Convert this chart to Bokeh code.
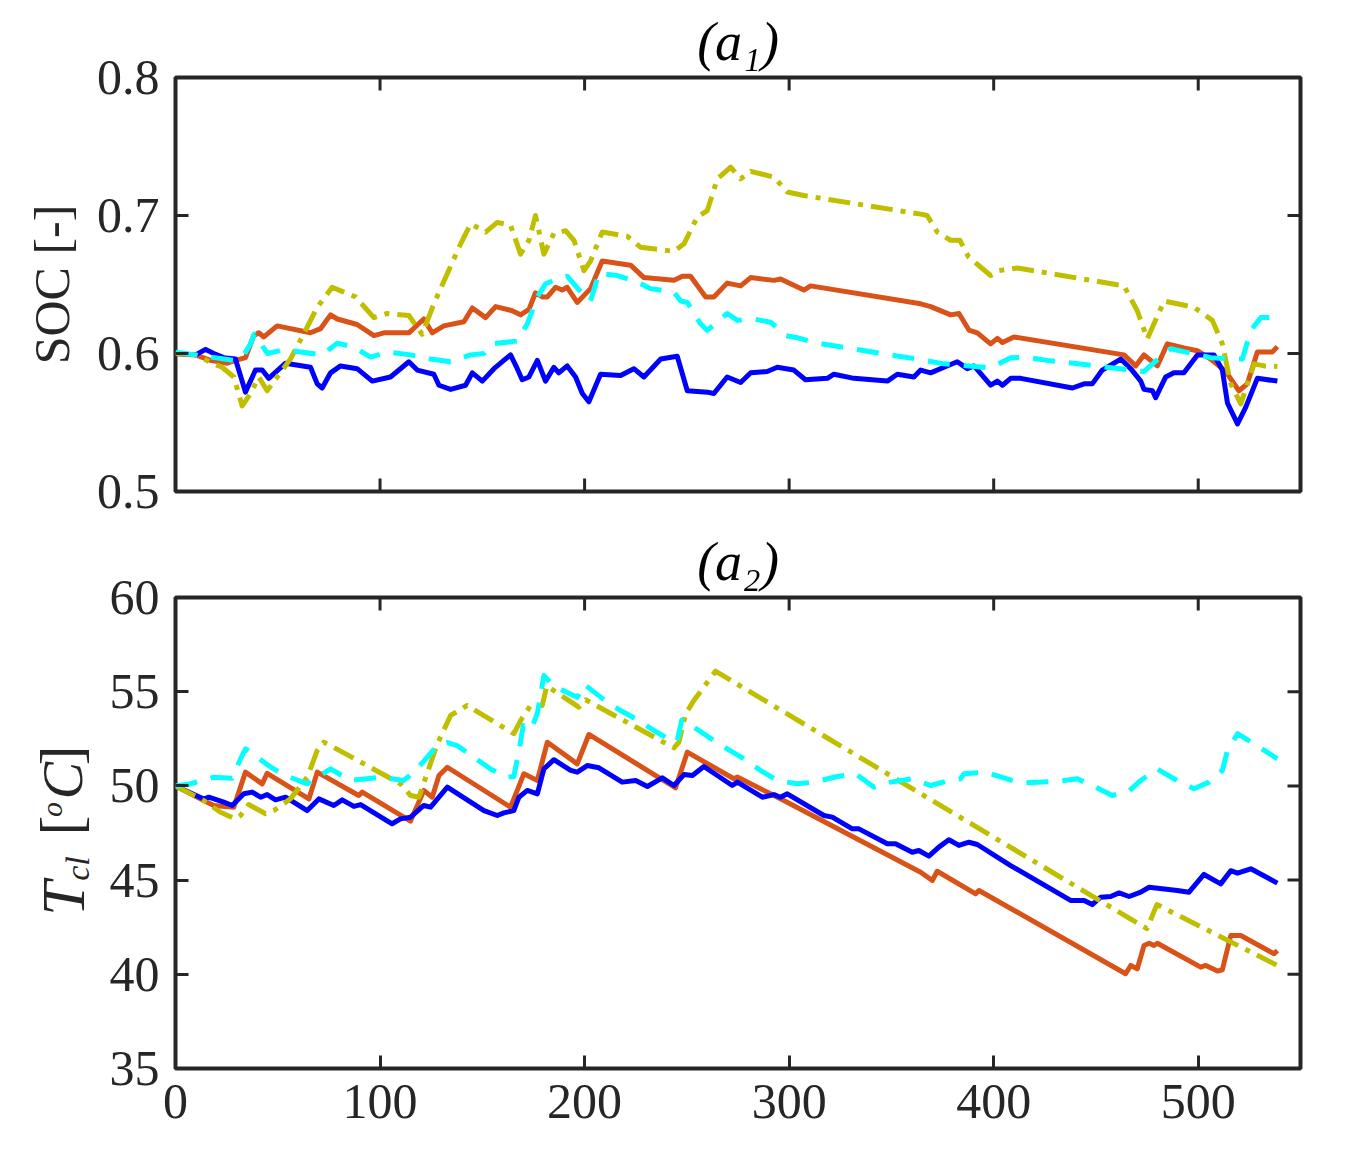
import math
from bokeh.plotting import figure
from bokeh.layouts import column, row
from bokeh.models import FixedTicker, Range1d
from bokeh.core.properties import value
from bokeh.embed import file_html
from bokeh.resources import INLINE

# ---------------- data ----------------
x_ticks = [0, 100, 200, 300, 400, 500]
x_lim = (0, 550)
soc_ticks = [0.5, 0.6, 0.7, 0.8]
soc_lim = (0.5, 0.8)
temp_ticks = [35, 40, 45, 50, 55, 60]
temp_lim = (35, 60)

# (a1) SOC
soc_blue_t = [0, 9.8, 14.7, 18.7, 23.6, 29.3, 34.2, 39.1, 42.4, 45.6, 53.8, 66, 69.3, 71.7, 75.8, 80.7,
              88.8, 96.2, 105.1, 114.1, 118.2, 126.3, 128.8, 134.5, 141.8, 145.1, 150, 155.7, 160.5, 163.8,
              167.1, 169.5, 172.8, 176.9, 180.9, 185, 187.4, 191.5, 195.6, 198.9, 202.1, 207.8, 217.6, 224.1,
              229, 237.2, 245.3, 250.2, 260, 263.2, 269.7, 276.3, 281.2, 289.3, 294.2, 302.3, 308, 318.7,
              321.9, 331.7, 348, 352.9, 361, 364.3, 369.2, 375.7, 382.2, 387.1, 390.4, 398.5, 401.8, 404.3,
              408.3, 413.2, 438.5, 444.2, 448.2, 453.1, 462.1, 467, 471.9, 473.5, 477.6, 479.2, 484.1, 488.1,
              493, 499.6, 507.7, 511.8, 514.3, 519.2, 523.2, 528.9, 538.7]
soc_blue = [0.600, 0.599, 0.603, 0.600, 0.597, 0.596, 0.572, 0.588, 0.588, 0.582, 0.593, 0.590, 0.578, 0.575,
            0.586, 0.591, 0.589, 0.580, 0.583, 0.594, 0.588, 0.585, 0.577, 0.574, 0.577, 0.586, 0.580, 0.589,
            0.595, 0.599, 0.589, 0.581, 0.583, 0.595, 0.580, 0.590, 0.586, 0.591, 0.583, 0.571, 0.565, 0.585,
            0.584, 0.589, 0.583, 0.596, 0.598, 0.573, 0.572, 0.571, 0.583, 0.579, 0.586, 0.587, 0.590, 0.588,
            0.581, 0.582, 0.585, 0.582, 0.580, 0.585, 0.583, 0.588, 0.586, 0.590, 0.594, 0.589, 0.591, 0.577,
            0.580, 0.577, 0.582, 0.582, 0.575, 0.578, 0.578, 0.588, 0.596, 0.589, 0.580, 0.574, 0.573, 0.568,
            0.583, 0.586, 0.586, 0.599, 0.599, 0.588, 0.564, 0.549, 0.561, 0.582, 0.580]

soc_orange_t = [0, 9.8, 17.1, 25.3, 29.3, 34.2, 38.3, 40.7, 43.2, 49.7, 66, 70.9, 75.8, 79.1, 88.8, 97,
                101.9, 114.1, 121.4, 125.5, 131.2, 141, 145.1, 151.6, 156.5, 164.6, 168.7, 172.8, 176, 179.3,
                181.8, 185.8, 189.1, 191.5, 196.4, 202.9, 208.6, 222.5, 229, 243.7, 247.8, 251.8, 259.2, 263.2,
                269.7, 276.3, 281.2, 292.6, 295.8, 307.2, 310.5, 364.3, 369.2, 379, 383, 387.9, 392, 398.5,
                401.8, 404.3, 409.9, 463.7, 469.4, 473.5, 480, 484.9, 493, 499.6, 506.1, 513.4, 519.9, 524,
                528.9, 536.2, 538.7]
soc_orange = [0.600, 0.599, 0.595, 0.593, 0.595, 0.597, 0.613, 0.615, 0.612, 0.620, 0.615, 0.618, 0.628, 0.625,
              0.621, 0.613, 0.615, 0.615, 0.625, 0.615, 0.620, 0.623, 0.633, 0.626, 0.634, 0.631, 0.628, 0.632,
              0.644, 0.641, 0.641, 0.648, 0.646, 0.648, 0.637, 0.647, 0.667, 0.664, 0.655, 0.653, 0.656, 0.656,
              0.641, 0.641, 0.651, 0.649, 0.655, 0.653, 0.654, 0.646, 0.649, 0.636, 0.634, 0.628, 0.629, 0.617,
              0.615, 0.607, 0.611, 0.608, 0.612, 0.599, 0.591, 0.599, 0.591, 0.607, 0.604, 0.602, 0.596, 0.587,
              0.573, 0.578, 0.601, 0.601, 0.605]

soc_olive_t = [0, 9.8, 18.7, 22.8, 28.5, 32.6, 36.7, 40.7, 44.8, 49.7, 56.2, 61.9, 69.3, 76.6, 82.3, 88, 97,
               103.5, 114.1, 120.6, 126.3, 132.9, 139.4, 144.3, 151.6, 157.3, 163.8, 168.7, 172.8, 176, 180.1,
               185, 190.7, 194.8, 199.7, 202.9, 208.6, 220.8, 227.4, 243.7, 248.6, 255.1, 260, 264.9, 271.4,
               276.3, 281.2, 292.6, 299.1, 307.2, 364.3, 367.5, 372.4, 379, 383.5, 387.7, 398.5, 402.6, 406.7,
               411.6, 463.7, 470.2, 475.1, 483.3, 489.8, 497.9, 506.9, 511.8, 515.9, 520.8, 527.3, 532.2, 538.7]
soc_olive = [0.600, 0.599, 0.5925, 0.590, 0.583, 0.562, 0.571, 0.583, 0.573, 0.583, 0.596, 0.612, 0.6335, 0.648,
             0.6445, 0.641, 0.626, 0.629, 0.6275, 0.614, 0.636, 0.658, 0.6795, 0.694, 0.688, 0.695, 0.693, 0.672,
             0.682, 0.700, 0.672, 0.687, 0.689, 0.682, 0.660, 0.667, 0.688, 0.685, 0.677, 0.674, 0.6795, 0.699,
             0.7036, 0.7266, 0.735, 0.7266, 0.732, 0.7278, 0.717, 0.7145, 0.701, 0.700, 0.688, 0.682, 0.682,
             0.670, 0.6565, 0.660, 0.661, 0.662, 0.649, 0.631, 0.6106, 0.638, 0.636, 0.6335, 0.624, 0.607,
             0.578, 0.5635, 0.5925, 0.591, 0.5906]

soc_cyan_t = [0, 9.8, 28.5, 33, 36.7, 38.5, 45, 53, 71.7, 79.1, 87.2, 95.4, 103.5, 114.9, 124.7, 134.5, 144.3,
              150.8, 154.8, 167.1, 172, 176.9, 180.9, 185, 191.5, 199.7, 202.9, 207, 216, 225.8, 232.3, 243.7,
              247, 250.2, 256.7, 260, 269.7, 274.7, 282.8, 290.9, 298.3, 304, 313.8, 361, 375.7, 398.5, 408.3,
              415.6, 426.2, 473.5, 483.3, 486.5, 497.9, 506.1, 515.9, 521.6, 525.7, 530.6, 538]
soc_cyan = [0.601, 0.599, 0.595, 0.598, 0.607, 0.614, 0.600, 0.6027, 0.599, 0.6075, 0.6046, 0.5973, 0.601,
            0.599, 0.596, 0.594, 0.599, 0.600, 0.607, 0.609, 0.6215, 0.641, 0.6505, 0.653, 0.656, 0.642, 0.638,
            0.658, 0.6565, 0.6517, 0.647, 0.6445, 0.638, 0.637, 0.6215, 0.6167, 0.629, 0.624, 0.625, 0.6227,
            0.613, 0.6114, 0.6075, 0.5963, 0.5925, 0.5896, 0.5969, 0.5973, 0.595, 0.587, 0.5998, 0.6034,
            0.5998, 0.597, 0.596, 0.596, 0.6167, 0.626, 0.626]

# (a2) coolant temperature
tcl_blue_t = [0, 13.8, 16.3, 23.6, 27.7, 33.4, 37.5, 41.6, 44.8, 48.9, 53.8, 64.4, 70.1, 77.4, 81.5, 87.2,
              90.5, 105.9, 110, 114.9, 121.4, 124.7, 132.9, 150.8, 157.3, 160.5, 165.4, 167.9, 172, 176.9,
              180.1, 185, 193.2, 196.4, 201.3, 207, 218.4, 225, 230.7, 238, 243.7, 248.6, 252.7, 258.3, 272.2,
              274.7, 286.9, 292.6, 295.8, 299.1, 317, 321.1, 330.9, 334.1, 348, 352, 360.2, 363.4, 368.3, 373.2,
              378.1, 383, 387.9, 392, 408.3, 437.6, 444.2, 448.2, 452.3, 457.2, 461.3, 466.2, 471.9, 476, 489.8,
              495.5, 502.8, 511, 515.9, 519.2, 525.7, 538.7]
tcl_blue = [50, 49.3, 49.4, 49.14, 48.96, 49.58, 49.67, 49.4, 49.54, 49.26, 49.4, 48.69, 49.31, 48.96, 49.26,
            48.91, 49.01, 47.99, 48.25, 48.34, 48.96, 48.87, 49.93, 48.69, 48.43, 48.57, 48.69, 49.4, 49.76,
            49.58, 50.9, 51.39, 50.82, 50.73, 51.08, 50.96, 50.2, 50.29, 49.97, 50.43, 50.02, 50.6, 50.55,
            51.03, 50.02, 50.2, 49.4, 49.54, 49.4, 49.58, 48.43, 48.34, 47.72, 47.72, 46.93, 46.93, 46.48,
            46.57, 46.27, 46.75, 47.14, 46.84, 47.01, 46.89, 45.77, 43.92, 43.92, 43.7, 44.09, 44.13, 44.32,
            44.13, 44.36, 44.62, 44.45, 44.36, 45.3, 44.8, 45.5, 45.37, 45.6, 44.84]

tcl_orange_t = [0, 13.8, 18.7, 28.5, 34.2, 42.4, 44.8, 65.2, 69.3, 89.6, 91.3, 114.9, 121.4, 125.5, 128.8,
                132.9, 163.8, 170.3, 176.9, 181.8, 196.4, 202.1, 244.5, 250.2, 273, 274.7, 297.4, 364.3, 370,
                372.4, 391.2, 392.8, 464.5, 467, 470.2, 473.5, 476, 478.4, 480, 501.2, 503.7, 509.4, 511.8,
                515.9, 520.8, 537.1, 538.7]
tcl_orange = [50, 49.22, 48.96, 48.87, 50.73, 50.11, 50.67, 49.31, 50.73, 49.49, 49.67, 48.13, 49.76, 49.4,
              50.55, 50.99, 48.87, 50.64, 50.29, 52.32, 51.17, 52.73, 49.9, 51.79, 50.38, 50.47, 49.22, 45.42,
              44.98, 45.47, 44.27, 44.45, 40.03, 40.47, 40.29, 41.53, 41.65, 41.53, 41.65, 40.38, 40.47, 40.17,
              40.24, 42.06, 42.06, 41.09, 41.26]

tcl_olive_t = [0, 13.8, 22, 29.3, 31.8, 35.8, 44, 48.1, 56.2, 64.4, 69.3, 72.5, 75.8, 110, 114.9, 119, 128,
               134.5, 142.6, 165.4, 168.7, 173.6, 179.3, 181.5, 197.2, 200.5, 243.7, 246.1, 249.4, 253.4, 264,
               474.9, 479.8, 538.7]
tcl_olive = [50, 49.22, 48.6, 48.25, 48.43, 49.01, 48.52, 48.69, 49.31, 50.46, 51.88, 52.32, 52.14, 50.11,
             49.49, 49.4, 52.23, 53.74, 54.27, 52.77, 53.47, 54.27, 54.27, 55.3, 54.18, 54.57, 52.02, 52.32,
             53.83, 54.53, 56.09, 42.42, 43.7, 40.47]

tcl_cyan_t = [0, 7, 18.7, 27.7, 31.8, 34.2, 46.5, 53.8, 64.4, 75.8, 85.6, 93.7, 100.2, 111.6, 117.4, 128, 133,
              137.7, 145.9, 154, 162.2, 165.4, 168, 170, 174, 177, 180.1, 185, 196.4, 199.7, 210, 217.6, 226.5,
              233.9, 243.7, 245.3, 247.5, 253.4, 260.7, 269.7, 277.9, 286, 294.2, 304, 312.1, 323.6, 332.5,
              341.5, 349.6, 360.2, 369.2, 378.1, 383.8, 385.5, 396.1, 402.6, 413.2, 421.3, 431.9, 440.9, 449.9,
              458, 466.2, 471.9, 480, 488.1, 497.9, 505.2, 511.8, 514.3, 519.2, 527.3, 538.7]
tcl_cyan = [50.0, 50.1, 50.46, 50.4, 51.44, 51.97, 51.0, 50.55, 50.11, 50.9, 50.29, 50.38, 50.46, 50.29, 50.82,
            52.14, 52.3, 52.14, 51.52, 50.9, 50.46, 50.5, 51.9, 53.2, 53.0, 53.9, 55.86, 55.3, 54.7, 55.4,
            54.53, 54.0, 53.47, 52.94, 52.32, 52.4, 53.5, 53.12, 52.59, 51.97, 51.44, 50.82, 50.29, 50.11,
            50.2, 50.5, 50.64, 49.93, 50.2, 50.38, 50.02, 50.29, 50.38, 50.64, 50.73, 50.5, 50.15, 50.2,
            50.25, 50.38, 49.93, 49.49, 49.72, 50.29, 50.9, 50.38, 49.85, 50.2, 50.82, 51.88, 52.77, 52.23,
            51.44]

# ---------------- style ----------------
FONT = "Liberation Serif"
AX = "#262626"
C_BLUE = "#0000FF"
C_ORANGE = "#D95319"
C_OLIVE = "#BFBF00"
C_CYAN = "#00FFFF"
LW = 5
DASHDOT = "22 8 5 8"
DASHED = "22 14"
TICK_LEN = 13


def style_axis(ax, ticks):
    ax.ticker = FixedTicker(ticks=ticks)
    ax.axis_line_color = None
    ax.major_tick_line_color = AX
    ax.major_tick_line_width = 3
    ax.major_tick_in = TICK_LEN
    ax.major_tick_out = 0
    ax.minor_tick_line_color = None
    ax.major_label_text_font = FONT
    ax.major_label_text_font_size = "50px"
    ax.major_label_text_color = AX


def inner_ticks(p, xlim, ylim, yticks, bottom_marks):
    # tick marks on the right and top edges (and bottom edge when it has no labels),
    # drawn as markers centred on the frame edge so that only the inner half shows
    n = len(yticks)
    p.scatter([xlim[1]] * n, yticks, marker="dash", size=2 * TICK_LEN,
              line_color=AX, line_width=3)
    m = len(x_ticks)
    p.scatter(x_ticks, [ylim[1]] * m, marker="dash", angle=math.pi / 2, size=2 * TICK_LEN,
              line_color=AX, line_width=3)
    if bottom_marks:
        p.scatter(x_ticks, [ylim[0]] * m, marker="dash", angle=math.pi / 2, size=2 * TICK_LEN,
                  line_color=AX, line_width=3)


def make_fig(frame_h, ylim, yticks, border_left, border_top, border_bottom, title, x_labels):
    p = figure(frame_width=1125, frame_height=frame_h,
               x_range=Range1d(*x_lim), y_range=Range1d(*ylim),
               output_backend="svg", toolbar_location=None,
               x_axis_type="linear" if x_labels else None,
               min_border_left=border_left, min_border_right=38,
               min_border_top=border_top, min_border_bottom=border_bottom,
               title=title)
    p.grid.visible = False
    p.outline_line_color = AX
    p.outline_line_width = 4
    p.outline_line_alpha = 1
    p.background_fill_color = "white"
    p.border_fill_color = "white"
    p.title.align = "center"
    p.title.text_font = FONT
    p.title.text_font_size = "54px"
    p.title.text_font_style = "italic"
    p.title.text_color = "black"
    p.title.standoff = 12
    style_axis(p.left[0], yticks)
    p.left[0].major_label_standoff = 16
    if x_labels:
        style_axis(p.below[0], x_ticks)
        p.below[0].major_label_standoff = 16
    return p


def draw(p, series):
    for t, v, color, dash in series:
        assert len(t) == len(v)
        p.line(t, v, line_color=color, line_width=LW, line_dash=dash, line_join="round")


LAB_W = 105

# top panel
p1 = make_fig(414, soc_lim, soc_ticks, 175, 77, 31, "(a\u2081)", False)
draw(p1, [
    (soc_orange_t, soc_orange, C_ORANGE, "solid"),
    (soc_blue_t, soc_blue, C_BLUE, "solid"),
    (soc_olive_t, soc_olive, C_OLIVE, DASHDOT),
    (soc_cyan_t, soc_cyan, C_CYAN, DASHED),
])
inner_ticks(p1, x_lim, soc_lim, soc_ticks, True)
p1.left[0].axis_label = "SOC [-]"
p1.left[0].axis_label_text_font = FONT
p1.left[0].axis_label_text_font_size = "50px"
p1.left[0].axis_label_text_font_style = "normal"
p1.left[0].axis_label_text_color = AX
p1.left[0].axis_label_standoff = 14

# bottom panel
P2_TOP, P2_FRAME, P2_BOTTOM = 75, 471, 74
p2 = make_fig(P2_FRAME, temp_lim, temp_ticks, 175 - LAB_W, P2_TOP, P2_BOTTOM, "(a\u2082)", True)
draw(p2, [
    (tcl_orange_t, tcl_orange, C_ORANGE, "solid"),
    (tcl_blue_t, tcl_blue, C_BLUE, "solid"),
    (tcl_olive_t, tcl_olive, C_OLIVE, DASHDOT),
    (tcl_cyan_t, tcl_cyan, C_CYAN, DASHED),
])
inner_ticks(p2, x_lim, temp_lim, temp_ticks, False)

# y-axis label "T_cl [oC]" for the bottom panel: rotated pieces in a narrow text strip.
# The row lines this strip's frame up with the panel's frame, so its vertical
# range is set to run in page pixels over that frame (597 at top, 1068 at bottom).
plab = figure(width=LAB_W, height=P2_TOP + P2_FRAME + P2_BOTTOM,
              x_range=Range1d(0, LAB_W), y_range=Range1d(1068, 597),
              x_axis_type=None, y_axis_type=None,
              output_backend="svg", toolbar_location=None,
              min_border_left=0, min_border_right=0, min_border_top=0, min_border_bottom=0)
plab.grid.visible = False
plab.outline_line_color = None
plab.border_fill_color = "white"
plab.background_fill_color = "white"
rk = dict(angle=math.pi / 2, text_font=value(FONT), text_color=AX,
          text_baseline="middle", text_align="center")
plab.text(x=[62], y=[898], text=["T"], text_font_size="62px", text_font_style="italic", **rk)
plab.text(x=[77], y=[868], text=["cl"], text_font_size="34px", text_font_style="italic", **rk)
plab.text(x=[60], y=[825], text=["["], text_font_size="60px", **rk)
plab.text(x=[51], y=[809], text=["o"], text_font_size="30px", text_font_style="italic", **rk)
plab.text(x=[62], y=[780], text=["C"], text_font_size="56px", text_font_style="italic", **rk)
plab.text(x=[60], y=[755], text=["]"], text_font_size="60px", **rk)

layout = column(p1, row(plab, p2, spacing=0), spacing=0)
open("out.html", "w").write(file_html(layout, INLINE))
